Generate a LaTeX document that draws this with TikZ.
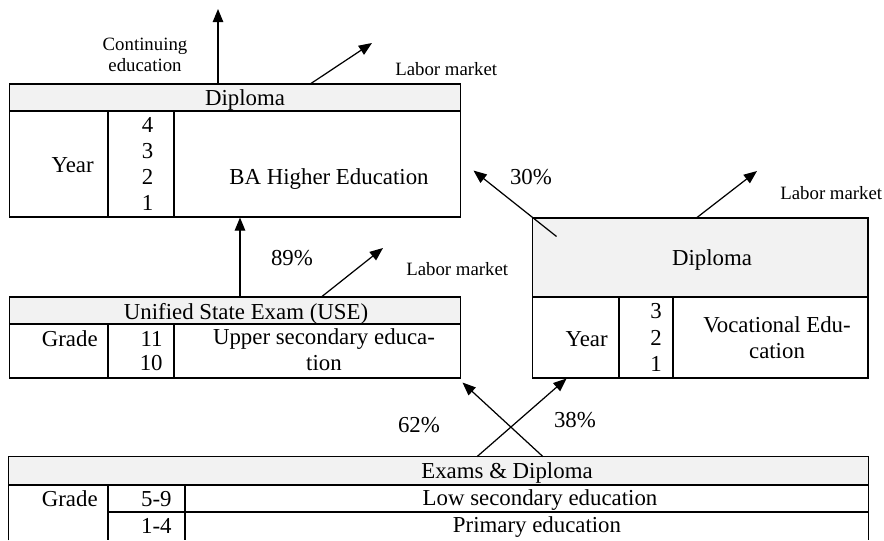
\documentclass[tikz,border=0pt]{standalone}
\usepackage{fontspec}
\setmainfont{Liberation Serif}
\usetikzlibrary{arrows.meta}

\definecolor{headgray}{HTML}{F2F2F2}

\tikzset{
  cell/.style={inner sep=0pt, font=\fontsize{13}{14.5}\selectfont},
  note/.style={inner sep=0pt, font=\fontsize{10.7}{12.5}\selectfont},
  frame/.style={draw, line width=0.6pt, inner sep=0pt},
  rule/.style={line width=0.6pt},
  flow/.style={-{Triangle[length=7.5pt,width=6pt]}, line width=0.7pt}
}

\begin{document}
\begin{tikzpicture}[x=0.02cm, y=-0.02cm]
  \useasboundingbox (0,0) rectangle (884,540);

  % higher education block
  \fill[headgray] (9,84) rectangle (461,111);
  \node[frame, minimum width=9.04cm, minimum height=2.66cm] (ba) at (235,150.5) {};
  \draw[rule] (9,111) -- (461,111) (108,111) -- (108,217) (174,111) -- (174,217);
  \node[cell, anchor=base] (baHead) at (245,106) {Diploma};
  \node[cell, anchor=base east] (baUnit) at (94,173) {Year};
  \foreach \n/\y in {4/133,3/159,2/185,1/211}
    \node[cell, anchor=base] (baYear\n) at (147.5,\y) {\n};
  \node[cell, anchor=base] (baName) at (329,185) {BA Higher Education};

  % upper secondary block
  \fill[headgray] (9,297) rectangle (461,324);
  \node[frame, minimum width=9.04cm, minimum height=1.62cm] (use) at (235,337.5) {};
  \draw[rule] (9,324) -- (461,324) (108,324) -- (108,378) (174,324) -- (174,378);
  \node[cell, anchor=base] (useHead) at (246,319) {Unified State Exam (USE)};
  \node[cell, anchor=base east] (useUnit) at (98,346) {Grade};
  \node[cell, anchor=base east] (useGr11) at (163,346) {11};
  \node[cell, anchor=base east] (useGr10) at (163,370) {10};
  % base of a two-line cell sits on its last line
  \node[cell, anchor=base, align=center] (useName) at (324,370) {Upper secondary educa-\\tion};

  % vocational block
  \fill[headgray] (532,218) rectangle (868,297);
  \node[frame, minimum width=6.72cm, minimum height=3.2cm] (voc) at (700,298) {};
  \draw[rule] (532,297) -- (868,297) (619,297) -- (619,378) (673,297) -- (673,378);
  \node[cell, anchor=base] (vocHead) at (712,265) {Diploma};
  \node[cell, anchor=base east] (vocUnit) at (608,346) {Year};
  \foreach \n/\y in {3/318,2/345,1/371}
    \node[cell, anchor=base] (vocYear\n) at (656,\y) {\n};
  \node[cell, anchor=base, align=center] (vocName) at (777,358) {Vocational Edu-\\cation};

  % primary and low secondary block, open at the bottom
  \fill[headgray] (9,457) rectangle (868,485);
  \node[inner sep=0pt, minimum width=17.18cm, minimum height=1.66cm] (bot) at (438.5,498.5) {};
  \draw[rule] (bot.south west) |- (bot.north east) -- (bot.south east);
  \draw[rule] (9,485) -- (868,485) (108,512) -- (868,512)
    (108,485) -- (108,540) (185,485) -- (185,540);
  \node[cell, anchor=base] (botHead) at (507,478) {Exams \& Diploma};
  \node[cell, anchor=base east] (botUnit) at (98,506) {Grade};
  \node[cell, anchor=base east] (botGrLow) at (172,506) {5-9};
  \node[cell, anchor=base east] (botGrPrim) at (172,533) {1-4};
  \node[cell, anchor=base] (botLow) at (540,505) {Low secondary education};
  \node[cell, anchor=base] (botPrim) at (537,532) {Primary education};

  % flows out of the higher education block
  \coordinate (contEd) at (218,9);
  \draw[flow] (ba.north -| contEd) -- (contEd);
  \node[note, anchor=base, align=center] (contLbl) at (145,72) {Continuing\\education};
  \coordinate (baJob) at (372,43);
  \draw[flow] ([xshift=1.52cm]ba.north) -- (baJob);
  \node[note, anchor=base west] (baJobLbl) at (395,76) {Labor market};

  % flows out of the upper secondary block
  \draw[flow] ([xshift=0.1cm]use.north) -- ([xshift=0.1cm]ba.south);
  \node[cell, anchor=base] (useShare) at (292,265) {89\%};
  \coordinate (useJob) at (383,248);
  \draw[flow] ([xshift=1.74cm]use.north) -- (useJob);
  \node[note, anchor=base west] (useJobLbl) at (406,275) {Labor market};

  % flows out of the vocational block
  \coordinate (vocJob) at (757,171);
  \draw[flow] ([xshift=-0.06cm]voc.north) -- (vocJob);
  \node[note, anchor=base west] (vocJobLbl) at (780,200) {Labor market};
  \draw[flow] ([xshift=0.5cm,yshift=-0.38cm]voc.north west) -- ([xshift=0.24cm,yshift=0.94cm]ba.south east);
  \node[cell, anchor=base] (vocShare) at (531,185) {30\%};

  % flows out of the bottom block
  \draw[flow] ([xshift=2.09cm]bot.north) -- ([xshift=0.02cm,yshift=-0.08cm]use.south east);
  \node[cell, anchor=base] (useShareB) at (419,432) {62\%};
  \draw[flow] ([xshift=0.77cm]bot.north) -- ([xshift=0.7cm]voc.south west);
  \node[cell, anchor=base] (vocShareB) at (575,427) {38\%};
\end{tikzpicture}
\end{document}
